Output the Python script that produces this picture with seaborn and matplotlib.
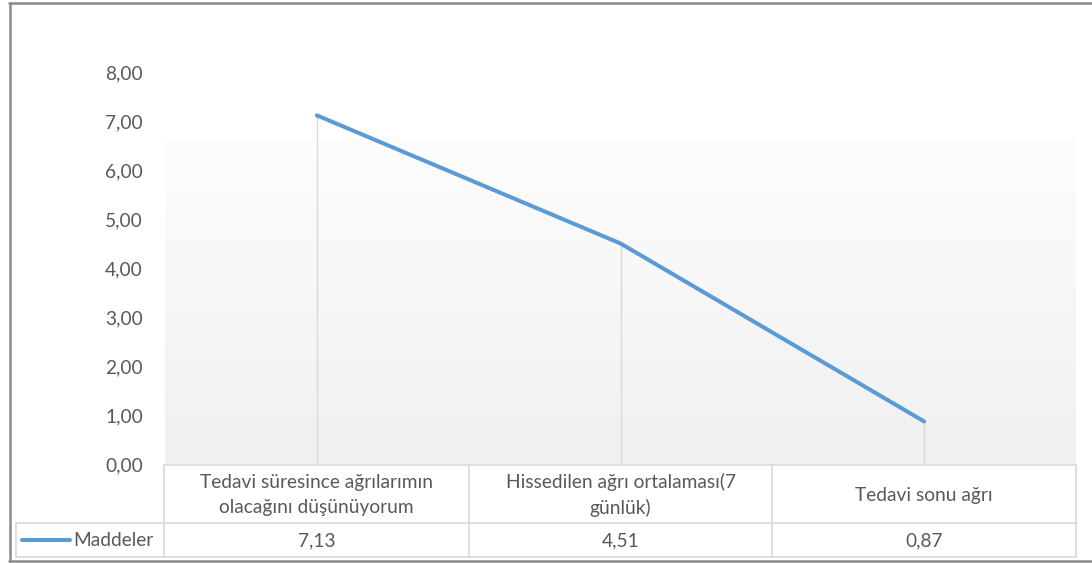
import numpy as np
import pandas as pd
import matplotlib
matplotlib.use("Agg")
import matplotlib.pyplot as plt
import seaborn as sns
from matplotlib.lines import Line2D

# Survey items and mean pain scores
categories = [
    "Tedavi süresince ağrılarımın\nolacağını düşünüyorum",
    "Hissedilen ağrı ortalaması(7\ngünlük)",
    "Tedavi sonu ağrı",
]
values = [7.13, 4.51, 0.87]
series_name = "Maddeler"
yticks = [0, 1, 2, 3, 4, 5, 6, 7, 8]

sns.set_theme(style="white")
plt.rcParams["font.family"] = ["Lato", "DejaVu Sans"]

W, H = 1092, 563
fig = plt.figure(figsize=(W / 100, H / 100), dpi=100)
FS = 13.8

# pixel helpers for figure-level layout
def fx(px):
    return px / W

def fy(py):
    return 1 - py / H

ax_left, ax_right = 165, 1076
ax_bottom, ax_top = 464, 40
unit = 48.9
ymax = (ax_bottom - ax_top) / unit

ax = fig.add_axes([fx(ax_left), fy(ax_bottom), fx(ax_right - ax_left), (ax_bottom - ax_top) / H])
ax.set_xlim(0, len(categories))
ax.set_ylim(0, ymax)

# faint plot-area gradient
grad_top = (ax_bottom - 138) / unit
grad = np.linspace(0, 1, 256).reshape(-1, 1)
cmap = matplotlib.colors.LinearSegmentedColormap.from_list("pa", ["#f0f0f0", "#fdfdfd"])
ax.imshow(grad, extent=[0, len(categories), 0, grad_top], origin="lower",
          cmap=cmap, aspect="auto", zorder=0)

df = pd.DataFrame({"x": np.arange(len(categories)) + 0.5, "y": values})

# drop lines from each point down to the axis
ax.vlines(df["x"], 0, df["y"], color="#d9d9d9", lw=1.0, zorder=1)
sns.lineplot(data=df, x="x", y="y", ax=ax, color="#5b9bd5", lw=2.9,
             solid_capstyle="round", zorder=3)

ax.set_xticks([])
ax.set_yticks(yticks)
ax.set_yticklabels([f"{t:.2f}".replace(".", ",") for t in yticks],
                   color="#595959", fontsize=FS)
ax.tick_params(axis="y", length=0, pad=(ax_left - 143) * 0.72)
ax.set_xlabel("")
ax.set_ylabel("")
for s in ax.spines.values():
    s.set_visible(False)

# data table under the plot
grid_c = "#d9d9d9"
tbl_top, row_div, tbl_bot = 465, 523, 557
col_edges = [ax_left - 1] + [ax_left + (ax_right - ax_left) * (i + 1) / len(categories) for i in range(len(categories))]
legend_left = 16

def hline(x0, x1, y, **kw):
    fig.add_artist(Line2D([fx(x0), fx(x1)], [fy(y), fy(y)], **kw))

def vline(x, y0, y1, **kw):
    fig.add_artist(Line2D([fx(x), fx(x)], [fy(y0), fy(y1)], **kw))

lkw = dict(color=grid_c, lw=1.2)
hline(col_edges[0], col_edges[-1], tbl_top, **lkw)
hline(legend_left, col_edges[-1], row_div, **lkw)
hline(legend_left, col_edges[-1], tbl_bot, **lkw)
vline(legend_left, row_div, tbl_bot, **lkw)
for x in col_edges:
    vline(x, tbl_top, tbl_bot, **lkw)

txt_c = "#595959"
for i, (cat, val) in enumerate(zip(categories, values)):
    cx = (col_edges[i] + col_edges[i + 1]) / 2
    fig.text(fx(cx), fy((tbl_top + row_div) / 2 + 1), cat, ha="center", va="center",
             color=txt_c, fontsize=FS, linespacing=1.55)
    fig.text(fx(cx), fy((row_div + tbl_bot) / 2 + 1), f"{val:.2f}".replace(".", ","),
             ha="center", va="center", color=txt_c, fontsize=FS)

# legend key in the table row
ly = (row_div + tbl_bot) / 2
fig.add_artist(Line2D([fx(22), fx(70)], [fy(ly), fy(ly)], color="#5b9bd5", lw=2.9,
                      solid_capstyle="round"))
fig.text(fx(73), fy(ly + 1), series_name, ha="left", va="center", color=txt_c, fontsize=FS)

# outer chart border
bkw = dict(color="#8a8a8a", lw=1.8)
hline(9, W, 3, **bkw)
hline(9, W, 561, **bkw)
vline(9.5, 3, 561, **bkw)

fig.savefig("out.png", dpi=100)
